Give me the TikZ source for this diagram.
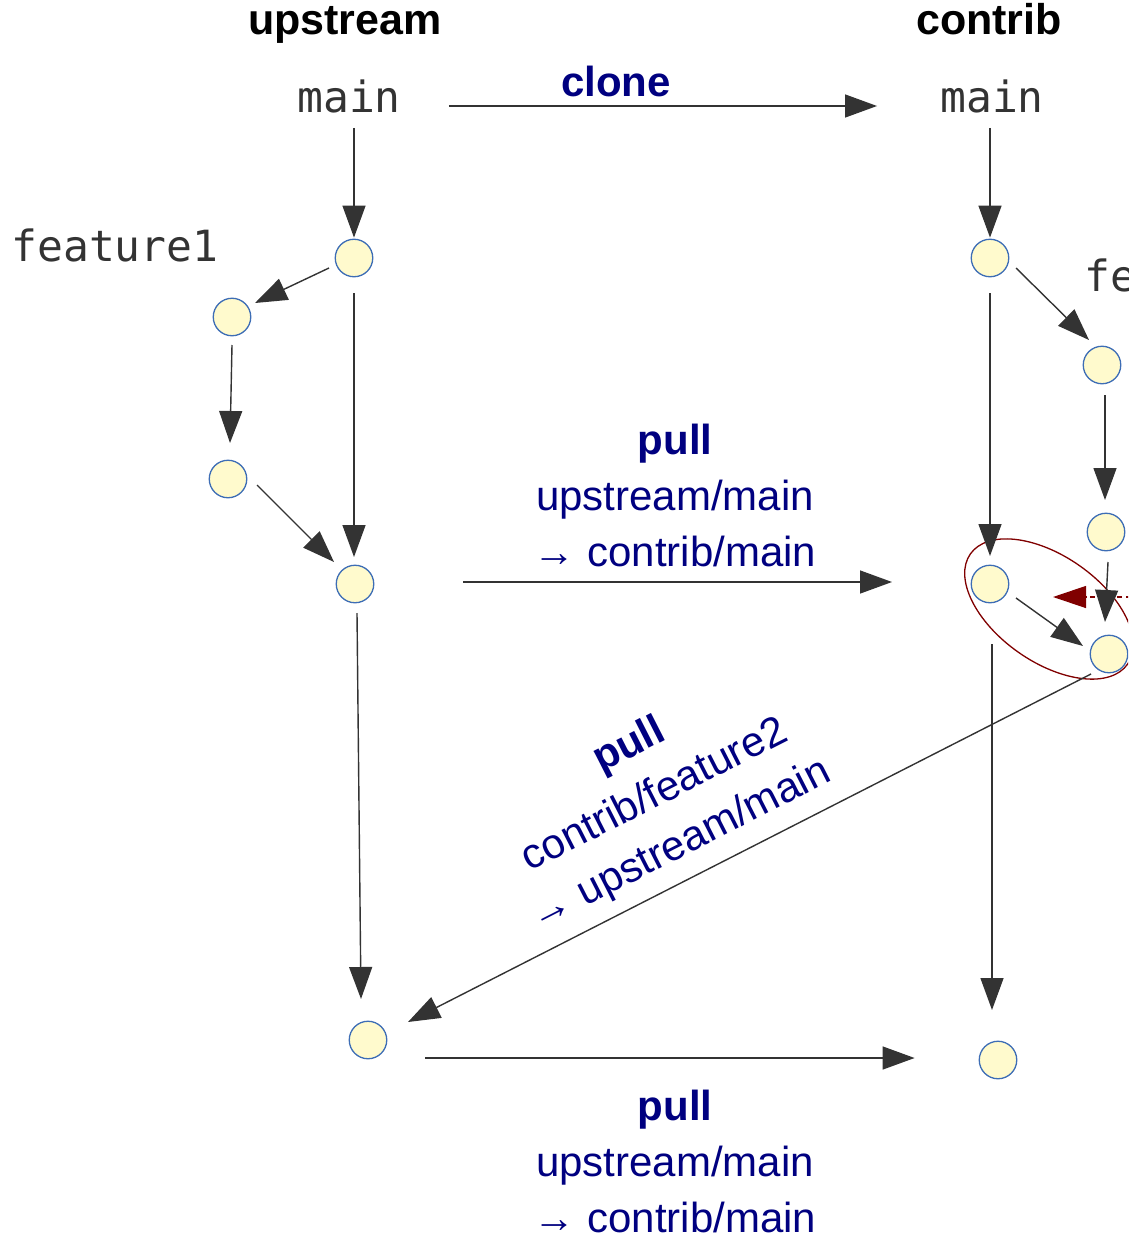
\documentclass[tikz,border=0pt]{standalone}
\usepackage{fontspec}
\setmainfont{Liberation Sans}
\newfontfamily\codefont{DejaVu Sans Mono}
\usetikzlibrary{arrows.meta,shapes.geometric,calc}

\definecolor{commitfill}{HTML}{FFFACD}
\definecolor{commitline}{HTML}{3D6DB5}
\definecolor{edgegray}{HTML}{333333}
\definecolor{labelblue}{HTML}{000080}
\definecolor{mergered}{HTML}{800000}

\begin{document}
\begin{tikzpicture}[x=1pt,y=-1pt,
  commit/.style={circle, draw=commitline, fill=commitfill, line width=1.3pt,
    minimum size=37.5pt, inner sep=0pt},
  flow/.style={color=edgegray, line width=1.4pt,
    -{Triangle[length=32pt,width=23pt]}},
  repo/.style={font=\fontsize{43}{52}\selectfont\bfseries, text=black,
    inner sep=0pt, anchor=base},
  branch/.style={font=\codefont\fontsize{43}{52}\selectfont, text=edgegray,
    inner sep=0pt, anchor=base},
  op/.style={font=\fontsize{42}{56}\selectfont\bfseries, text=labelblue,
    inner sep=0pt, anchor=base},
  ref/.style={font=\fontsize{42}{56}\selectfont, text=labelblue,
    inner sep=0pt, anchor=base},
]
\clip (0,0) rectangle (1128,1236);

% repository headings and branch names
\node[repo] (hup)  at (345,35) {upstream};
\node[repo] (hcon) at (989,35) {contrib};
\node[branch] (umain) at (349,113) {main};
\node[branch] (cmain) at (992,113) {main};
\node[branch] (lf1) at (115,261) {feature1};
\node[branch, anchor=base west] (lf2) at (1084,291) {feature2};

% commits of upstream
\node[commit] (U1)  at (354,258) {};
\node[commit] (F1a) at (232,317) {};
\node[commit] (F1b) at (228,479) {};
\node[commit] (U2)  at (355,584) {};
\node[commit] (U3)  at (368,1040) {};

% commits of contrib
\node[commit] (C1)  at (990,258) {};
\node[commit] (F2a) at (1102,365) {};
\node[commit] (F2b) at (1106,532) {};
\node[commit] (C2)  at (990,584) {};
\node[commit] (M)   at (1109,654) {};
\node[commit] (C3)  at (998,1060) {};

% merge group
\node[draw=mergered, line width=1.3pt, ellipse, minimum width=192pt,
  minimum height=106pt, inner sep=0pt, rotate=-35] (grp) at (1049,609) {};
\coordinate (rin) at (1140,597);
\coordinate (rtip) at (1053,597);
\draw[color=mergered, line width=1.3pt, dash pattern=on 5pt off 4pt,
  -{Triangle[length=33pt,width=22pt]}] (rin) -- (rtip);

% upstream history
\draw[flow, shorten <=14pt, shorten >=1pt] (umain.south -| U1) -- (U1.north);
\draw[flow] ($(U1)+(-25,10)$) -- ($(F1a)+(23,-14)$);
\draw[flow] ($(F1a)+(0,28)$) -- ($(F1b)+(2,-36)$);
\draw[flow] ($(F1b)+(29,6)$) -- ($(U2)+(-21,-22)$);
\draw[flow] ($(U1)+(0,35)$) -- ($(U2)+(-1,-27)$);
\draw[flow] ($(U2)+(2,29)$) -- ($(U3)+(-7,-41)$);

% contrib history
\draw[flow, shorten <=14pt, shorten >=1pt] (cmain.south -| C1) -- (C1.north);
\draw[flow] ($(C1)+(26,10)$) -- ($(F2a)+(-13,-25)$);
\draw[flow] ($(C1)+(0,35)$) -- ($(C2)+(0,-28)$);
\draw[flow] ($(F2a)+(3,30)$) -- ($(F2b)+(-1,-32)$);
\draw[flow] ($(F2b)+(2,30)$) -- ($(M)+(-4,-32)$);
\draw[flow] ($(C2)+(26,14)$) -- ($(M)+(-26,-8)$);
\draw[flow] ($(C2)+(2,60)$) -- ($(C3)+(-6,-50)$);

% operations between the repositories
\draw[flow] ($(umain.base east)+(48,-7)$) -- ($(cmain.base west)+(-63,-7)$);
\node[op] (lclone) at (616,97) {clone};

\draw[flow] ($(U2)+(108,-2)$) -- ($(C2)+(-98,-2)$);
\node[op]  (p1a) at (675,454) {pull};
\node[ref] (p1b) at (675,510) {upstream/main};
\node[ref] (p1c) at (675,566) {→ contrib/main};

\draw[flow] ($(M)+(-18,20)$) -- ($(U3)+(40,-18)$);
\node[font=\fontsize{42}{56}\selectfont, text=labelblue, inner sep=0pt,
  align=center, rotate=27] (p2) at (655,796)
  {{\bfseries pull}\\contrib/feature2\\→ upstream/main};

\draw[flow] ($(U3.east)+(38,18)$) -- ($(C3.west)+(-64,-2)$);
\node[op]  (p3a) at (675,1120) {pull};
\node[ref] (p3b) at (675,1176) {upstream/main};
\node[ref] (p3c) at (675,1232) {→ contrib/main};
\end{tikzpicture}
\end{document}
